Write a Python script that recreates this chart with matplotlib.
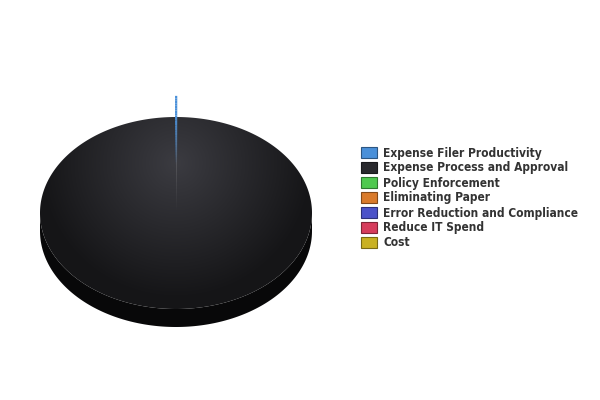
import numpy as np
import matplotlib.pyplot as plt
from matplotlib.patches import Polygon, Rectangle
from matplotlib.collections import LineCollection
from matplotlib.colors import to_rgb

labels = ['Expense Filer Productivity', 'Expense Process and Approval', 'Policy Enforcement',
          'Eliminating Paper', 'Error Reduction and Compliance', 'Reduce IT Spend', 'Cost']
values = [0.03, 99.97, 0, 0, 0, 0, 0]
colors = ['#4a90d9', '#29292d', '#4fc94f', '#d97a2b', '#4b52c9', '#d63c5c', '#c9b122']
explode = [0.22, 0, 0, 0, 0, 0, 0]

# pie geometry in pixels
cx, cy, rx, ry, depth = 176, 213, 136, 96, 18

fig = plt.figure(figsize=(6, 4), dpi=100)
ax = fig.add_axes([0, 0, 1, 1])
ax.set_xlim(0, 600)
ax.set_ylim(400, 0)
ax.axis('off')


def shade(c, k):
    return tuple(np.clip(np.array(to_rgb(c)) * k, 0, 1))


yy, xx = np.mgrid[0:400, 0:600] + 0.5
dist = np.sqrt(((xx - cx) / rx) ** 2 + ((yy - (cy - 50)) / (ry * 1.4)) ** 2)
dist = np.clip(dist, 0, 1)[..., None]

total = sum(values)
ang = 90.0
for i, v in enumerate(values):
    if v <= 0:
        continue
    sweep = v / total * 360
    a0, a1 = ang, ang - sweep
    ang = a1
    mid = np.radians((a0 + a1) / 2)
    ox = explode[i] * rx * np.cos(mid)
    oy = -explode[i] * ry * np.sin(mid)
    t = np.radians(np.linspace(a0, a1, max(int(sweep * 2), 3)))
    ex = cx + ox + rx * np.cos(t)
    ey = cy + oy - ry * np.sin(t)

    # side of slice (front half only)
    front = np.sin(t) <= 0
    if front.sum() > 1:
        sx, sy = ex[front], ey[front]
        side = np.concatenate([np.c_[sx, sy], np.c_[sx[::-1], sy[::-1] + depth]])
        ax.add_patch(Polygon(side, closed=True, fc=shade(colors[i], 0.2), ec='none', zorder=1))

    if sweep > 2:
        wedge = Polygon(np.r_[[[cx + ox, cy + oy]], np.c_[ex, ey]], closed=True,
                        fc='none', ec='none', zorder=2)
        ax.add_patch(wedge)
        light = np.array(shade(colors[i], 1.45))
        dark = np.array(shade(colors[i], 0.52))
        img = light * (1 - dist) + dark * dist
        im = ax.imshow(img, extent=(0, 600, 400, 0), zorder=2, interpolation='bilinear')
        im.set_clip_path(wedge)
    else:
        # thin slice drawn as a fading line along its ray
        r = np.linspace(1.0, 0.0, 40)
        lx = cx + ox + rx * r * np.cos(mid)
        ly = cy + oy - ry * r * np.sin(mid)
        segs = [[(lx[k], ly[k]), (lx[k + 1], ly[k + 1])] for k in range(len(r) - 1)]
        alph = np.clip((r[:-1] - 0.3) / 0.5, 0, 1)
        cols = [(*to_rgb(colors[i]), a) for a in alph]
        ax.add_collection(LineCollection(segs, colors=cols, linewidths=1.6, zorder=3))

# legend
for i, lab in enumerate(labels):
    y = 147 + 15 * i
    ax.add_patch(Rectangle((361, y), 16, 11, fc=colors[i], ec=shade(colors[i], 0.6), lw=0.8, zorder=4))
    ax.text(383, y + 6, lab, fontsize=8.6, color='#333333', fontweight='bold',
            fontstretch='condensed', va='center', ha='left', family='DejaVu Sans', zorder=4)

fig.savefig('out.png', dpi=100)
